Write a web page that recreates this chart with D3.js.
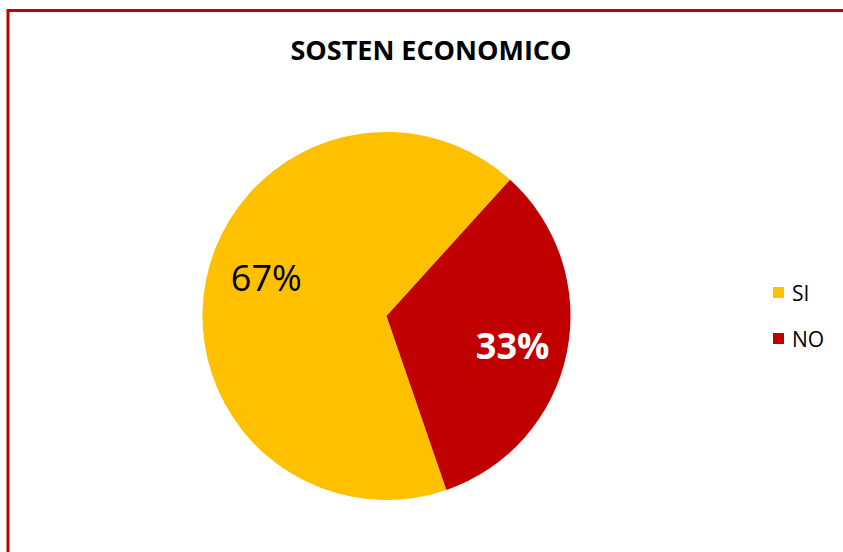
<!DOCTYPE html>
<html>
<head>
<meta charset="utf-8">
<script src="https://cdn.jsdelivr.net/npm/d3@7"></script>
<style>
  html, body { margin: 0; padding: 0; background: #fff; }
  svg { display: block; }
</style>
</head>
<body>
<svg id="chart" width="843" height="552"></svg>
<script>
// Pie data
const categories = ["SI", "NO"];
const values = [67, 33];
const colors = ["#FFC000", "#C00000"];
const labelColors = ["#000000", "#FFFFFF"];
const labelWeights = ["normal", "bold"];

const svg = d3.select("#chart");
const W = 843, H = 552;
const font = "'Open Sans', 'Liberation Sans', sans-serif";

// Chart frame
svg.append("rect")
  .attr("x", 8).attr("y", 10.5)
  .attr("width", W).attr("height", H)
  .attr("fill", "none")
  .attr("stroke", "#C00000")
  .attr("stroke-width", 3);

// Title
svg.append("text")
  .attr("x", 431).attr("y", 60)
  .attr("text-anchor", "middle")
  .attr("font-family", font)
  .attr("font-weight", "bold")
  .attr("font-size", 27)
  .attr("textLength", 281)
  .attr("lengthAdjust", "spacingAndGlyphs")
  .attr("fill", "#000")
  .text("SOSTEN ECONOMICO");

// Pie
const cx = 386.5, cy = 316, r = 184;
const start = 161 * Math.PI / 180;
const pie = d3.pie().sort(null).value(d => d)
  .startAngle(start).endAngle(start + 2 * Math.PI);
const arcs = pie(values);
const arc = d3.arc().innerRadius(0).outerRadius(r);

const g = svg.append("g").attr("transform", `translate(${cx},${cy})`);
g.selectAll("path")
  .data(arcs)
  .join("path")
  .attr("d", arc)
  .attr("fill", (d, i) => colors[i]);

// Percentage labels, placed along each slice's bisector
const total = d3.sum(values);
const labelRadius = r * 0.70;
const labelShiftX = [6, 0];
const labelShiftY = [-12, 4];
const labelArc = d3.arc().innerRadius(labelRadius).outerRadius(labelRadius);
g.selectAll("text.pct")
  .data(arcs)
  .join("text")
  .attr("class", "pct")
  .attr("transform", (d, i) => {
    const [x, y] = labelArc.centroid(d);
    return `translate(${x + labelShiftX[i]},${y + labelShiftY[i]})`;
  })
  .attr("text-anchor", "middle")
  .attr("dy", "0.36em")
  .attr("font-family", font)
  .attr("font-size", 36)
  .attr("font-weight", (d, i) => labelWeights[i])
  .attr("fill", (d, i) => labelColors[i])
  .text(d => Math.round(d.value / total * 100) + "%");

// Legend
const legend = svg.append("g");
const item = legend.selectAll("g")
  .data(categories)
  .join("g")
  .attr("transform", (d, i) => `translate(773,${287 + i * 46})`);
item.append("rect")
  .attr("width", 11).attr("height", 11)
  .attr("fill", (d, i) => colors[i]);
item.append("text")
  .attr("x", 19).attr("y", 14)
  .attr("font-family", font)
  .attr("font-size", 21)
  .attr("fill", "#000")
  .text(d => d);
</script>
</body>
</html>
